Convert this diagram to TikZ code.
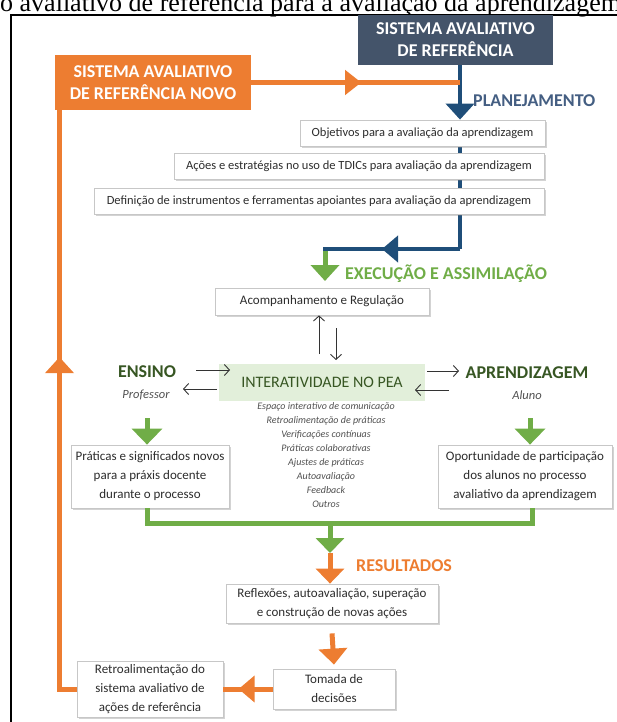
\documentclass[tikz,border=0pt]{standalone}
\usepackage{fontspec}
\setmainfont{Carlito}
\newfontfamily\capfont{Liberation Serif}
\usetikzlibrary{arrows.meta,decorations.markings,shadows,calc}

\definecolor{slate}{RGB}{68,84,106}
\definecolor{orng}{RGB}{237,125,49}
\definecolor{navy}{RGB}{31,78,121}
\definecolor{grn}{RGB}{112,173,71}
\definecolor{dgrn}{RGB}{55,86,35}
\definecolor{lgrn}{RGB}{226,239,218}
\definecolor{plan}{RGB}{68,94,130}
\definecolor{txt}{RGB}{45,45,45}
\definecolor{ital}{RGB}{80,80,80}

\tikzset{
  titlebox/.style={text=white, font=\fontsize{18}{22}\selectfont\bfseries, align=center, inner sep=0pt},
  whitebox/.style={draw=black!22, line width=0.8pt, fill=white,
    drop shadow={shadow xshift=2pt, shadow yshift=-2pt, opacity=0.35},
    text=txt, align=center, inner sep=0pt},
  plantext/.style={font=\fontsize{12.5}{15}\selectfont},
  boxtext/.style={font=\fontsize{13}{19}\selectfont},
  heading/.style={font=\fontsize{18}{22}\selectfont\bfseries, inner sep=0pt},
  navyline/.style={draw=navy, line width=4.5pt},
  orangeline/.style={draw=orng, line width=5pt},
  greenline/.style={draw=grn, line width=5pt},
  midtip/.style 2 args={postaction={decorate}, decoration={markings, mark=at position #1 with {\arrow{Triangle[width=#2pt,length=16pt]}}}},
  thinarr/.style={draw=black!80, line width=0.9pt, -{Straight Barb[length=5pt,width=11pt]}},
}

\begin{document}
\begin{tikzpicture}[x=1pt,y=-1pt]
\useasboundingbox (0,0) rectangle (616,722);

% caption (cut at the top)
\node[anchor=base west, inner sep=0pt, font=\capfont\fontsize{26}{30}\selectfont] (cap) at (0,12)
  {o avaliativo de referência para a avaliação da aprendizagem};

% frame
\draw[line width=2pt] (620,15) -- (11,15) -- (11,725);

% title boxes
\node[titlebox, fill=slate, minimum width=195pt, minimum height=50pt] (ref) at (455.5,40) {SISTEMA AVALIATIVO\\DE REFERÊNCIA};
\node[titlebox, fill=orng, minimum width=196pt, minimum height=55pt] (novo) at (153,82.5) {SISTEMA AVALIATIVO\\DE REFERÊNCIA NOVO};

% planning boxes
\coordinate (bturn) at (460,249);
\coordinate (gstart) at (325,249);
\coordinate (gend) at (325,281);
\draw[navyline] (460,140) -- (bturn);
\node[whitebox, plantext, minimum width=245pt, minimum height=26pt] (obj) at (422.5,133) {Objetivos para a avaliação da aprendizagem};
\node[whitebox, plantext, minimum width=370pt, minimum height=26pt] (acoes) at (359,166) {Ações e estratégias no uso de TDICs para avaliação da aprendizagem};
\node[whitebox, plantext, minimum width=450pt, minimum height=26pt] (defin) at (319,201) {Definição de instrumentos e ferramentas apoiantes para avaliação da aprendizagem};

% planning arrow
\draw[navyline, -{Triangle[width=28pt,length=16pt]}] (ref.south -| bturn) -- (obj.north -| bturn);
\node[heading, text=plan, anchor=west] (plan) at (473,101) {PLANEJAMENTO};

% orange top line
\draw[orangeline, midtip={110pt}{24}] (novo.east) -- (novo.east -| bturn);

% blue to green
\draw[greenline, -{Triangle[width=28pt,length=16pt]}] (gstart) -- (gend);
\draw[navyline, midtip={78pt}{26}] (bturn) -- ([xshift=-2.2pt]gstart);
\node[heading, text=grn, anchor=west] (exec) at (345,274) {EXECUÇÃO E ASSIMILAÇÃO};

% execution part
\node[whitebox, boxtext, minimum width=214pt, minimum height=27pt] (acomp) at (322,301.5) {Acompanhamento e Regulação};
\node[fill=lgrn, minimum width=206pt, minimum height=37pt, inner sep=0pt, text=dgrn, font=\fontsize{16}{19}\selectfont] (inter) at (322,382.5) {INTERATIVIDADE NO PEA};

\coordinate (up0) at (319,354);
\coordinate (dn0) at (336,328);
\coordinate (dn1) at (336,360);
\draw[thinarr] (up0) -- (up0 |- acomp.south);
\draw[thinarr] (dn0) -- (dn1);

\node[heading, text=dgrn] (ensino) at (147,372) {ENSINO};
\node[font=\fontsize{12.5}{15}\selectfont\itshape, text=ital, inner sep=0pt] (prof) at (146,395) {Professor};
\node[heading, text=dgrn] (aprend) at (527,373) {APRENDIZAGEM};
\node[font=\fontsize{12.5}{15}\selectfont\itshape, text=ital, inner sep=0pt] (aluno) at (527,395) {Aluno};

\coordinate (l1a) at (196,370);
\coordinate (l1b) at (230,370);
\coordinate (l2a) at (217,389);
\coordinate (l2b) at (183,389);
\coordinate (r1a) at (427,371);
\coordinate (r1b) at (459,371);
\coordinate (r2a) at (449,390);
\coordinate (r2b) at (415,390);
\draw[thinarr] (l1a) -- (l1b);
\draw[thinarr] (l2a) -- (l2b);
\draw[thinarr] (r1a) -- (r1b);
\draw[thinarr] (r2a) -- (r2b);

\node[font=\fontsize{10}{14}\selectfont\itshape, text=ital, align=center, inner sep=0pt, anchor=north] (list) at (326,402)
 {Espaço interativo de comunicação\\Retroalimentação de práticas\\Verificações contínuas\\Práticas colaborativas\\Ajustes de práticas\\Autoavaliação\\Feedback\\Outros};

\node[whitebox, boxtext, minimum width=158pt, minimum height=63pt] (prat) at (150,476.5) {Práticas e significados novos\\para a práxis docente\\durante o processo};
\node[whitebox, boxtext, minimum width=174pt, minimum height=63pt] (oport) at (525,476.5) {Oportunidade de participação\\dos alunos no processo\\avaliativo da aprendizagem};

\coordinate (gL) at (147,418);
\coordinate (gR) at (530,418);
\draw[greenline, -{Triangle[width=30pt,length=16pt]}] (gL) -- (gL |- prat.north);
\draw[greenline, -{Triangle[width=30pt,length=16pt]}] (gR) -- (gR |- oport.north);

% results
\coordinate (gjoin) at (330,523);
\coordinate (gtip) at (330,553);
\coordinate (gbL) at (147,523);
\coordinate (gbR) at (532,523);
\draw[greenline] (gbL |- prat.south) -- (gbL) -- (gbR) -- (gbR |- oport.south);
\node[whitebox, boxtext, minimum width=212pt, minimum height=39pt] (refl) at (332,603.5) {Reflexões, autoavaliação, superação\\e construção de novas ações};
\draw[greenline, -{Triangle[width=28pt,length=15pt]}] (gjoin) -- (gtip);
\draw[orangeline, -{Triangle[width=28pt,length=15pt]}] (gtip) -- (gtip |- refl.north);
\node[heading, text=orng, anchor=west] (res) at (356,566) {RESULTADOS};

\node[whitebox, boxtext, minimum width=122pt, minimum height=40pt] (tom) at (334,689) {Tomada de\\decisões};
\draw[orangeline, -{Triangle[width=28pt,length=16pt]}] ([yshift=-10pt]refl.south) -- ([yshift=4pt]tom.north);

\node[whitebox, boxtext, minimum width=146pt, minimum height=56pt] (retro) at (150,689) {Retroalimentação do\\sistema avaliativo de\\ações de referência};
\draw[orangeline, midtip={34pt}{26}] (tom.west) -- (retro.east);

% feedback loop
\coordinate (loopx) at (59.5,689);
\draw[orangeline, midtip={349pt}{28}] (retro.west) -- (loopx) -- (loopx |- novo.south);
\end{tikzpicture}
\end{document}
